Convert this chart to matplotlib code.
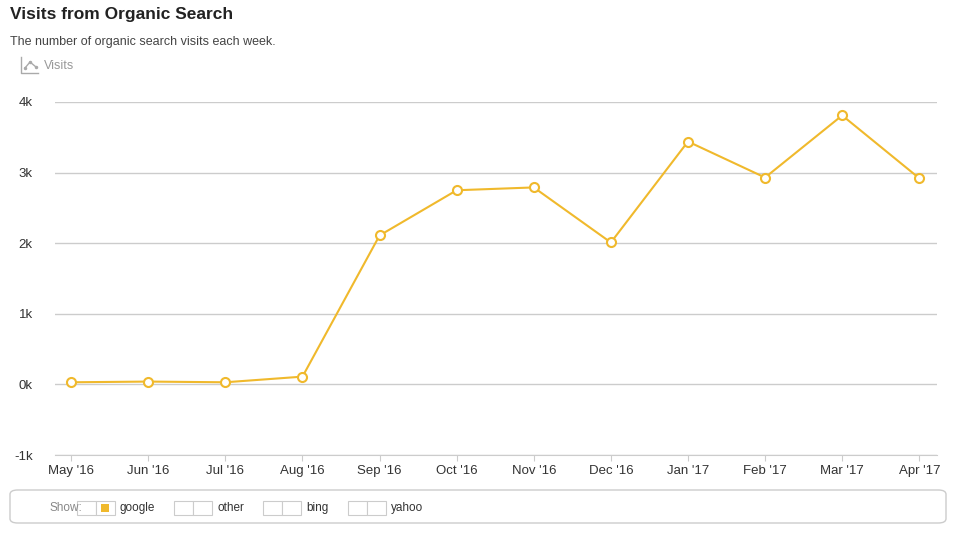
import matplotlib
matplotlib.use("Agg")
import matplotlib.pyplot as plt
from matplotlib.patches import FancyBboxPatch, Rectangle

months = ["May '16", "Jun '16", "Jul '16", "Aug '16", "Sep '16", "Oct '16",
          "Nov '16", "Dec '16", "Jan '17", "Feb '17", "Mar '17", "Apr '17"]
google = [30, 40, 30, 110, 2110, 2750, 2790, 2010, 3440, 2930, 3810, 2920]
yticks = [-1000, 0, 1000, 2000, 3000, 4000]
ytick_labels = ["-1k", "0k", "1k", "2k", "3k", "4k"]
legend_items = ["google", "other", "bing", "yahoo"]

W, H = 974, 536
fig = plt.figure(figsize=(W/100, H/100), dpi=100)
plt.rcParams["font.family"] = "Liberation Sans"
ax = fig.add_axes([55/W, 1-455/H, (937-55)/W, (455-102)/H])
x = list(range(len(months)))
c = "#f0b92c"
ax.plot(x, google, color=c, lw=1.5, marker="o", ms=6.5, mfc="white", mec=c, mew=1.5, zorder=3)
ax.set_ylim(-1000, 4000)
ax.set_xlim(-0.21, 11.23)
ax.set_yticks(yticks)
ax.set_yticklabels(ytick_labels)
ax.set_xticks(x)
ax.set_xticklabels(months)
ax.grid(axis="y", color="#cccccc", lw=1)
for s in ["top", "right", "left"]:
    ax.spines[s].set_visible(False)
ax.spines["bottom"].set_color("#cccccc")
ax.tick_params(axis="y", length=0, labelsize=9.5, colors="#333333", pad=16)
ax.tick_params(axis="x", length=4, color="#cccccc", labelsize=9.5, colors="#333333")

fig.text(10/W, 1-15/H, "Visits from Organic Search", fontsize=12.5, fontweight="bold", va="center", color="#222222")
fig.text(10/W, 1-42/H, "The number of organic search visits each week.", fontsize=9, va="center", color="#444444")
fig.text(44/W, 1-66/H, "Visits", fontsize=9, va="center", color="#999999")
# small icon
fig.add_artist(plt.Line2D([21/W, 21/W, 38/W], [1-57/H, 1-73/H, 1-73/H], color="#aaaaaa", lw=1))
fig.add_artist(plt.Line2D([25/W, 30/W, 36/W], [1-68/H, 1-62/H, 1-67/H], color="#aaaaaa", lw=1, marker="o", ms=1.5))

fig.add_artist(FancyBboxPatch((10/W, 1-523/H), 936/W, 33/H, boxstyle="round,pad=0,rounding_size=0.008",
                              fc="white", ec="#cccccc", lw=1, transform=fig.transFigure))
fig.text(50/W, 1-508/H, "Show:", fontsize=8.5, va="center", color="#888888")
starts = [77, 174, 263, 348]
for sx, lab in zip(starts, legend_items):
    for k in range(2):
        fig.add_artist(Rectangle(((sx+k*19)/W, 1-515/H), 19/W, 14/H, fc="white", ec="#cccccc", lw=0.8,
                                 transform=fig.transFigure))
    if lab == "google":
        fig.add_artist(Rectangle(((sx+24)/W, 1-512/H), 8/W, 8/H, fc=c, ec="none", transform=fig.transFigure))
    fig.text((sx+43)/W, 1-508/H, lab, fontsize=8.5, va="center", color="#333333")

fig.savefig("out.png", dpi=100)
